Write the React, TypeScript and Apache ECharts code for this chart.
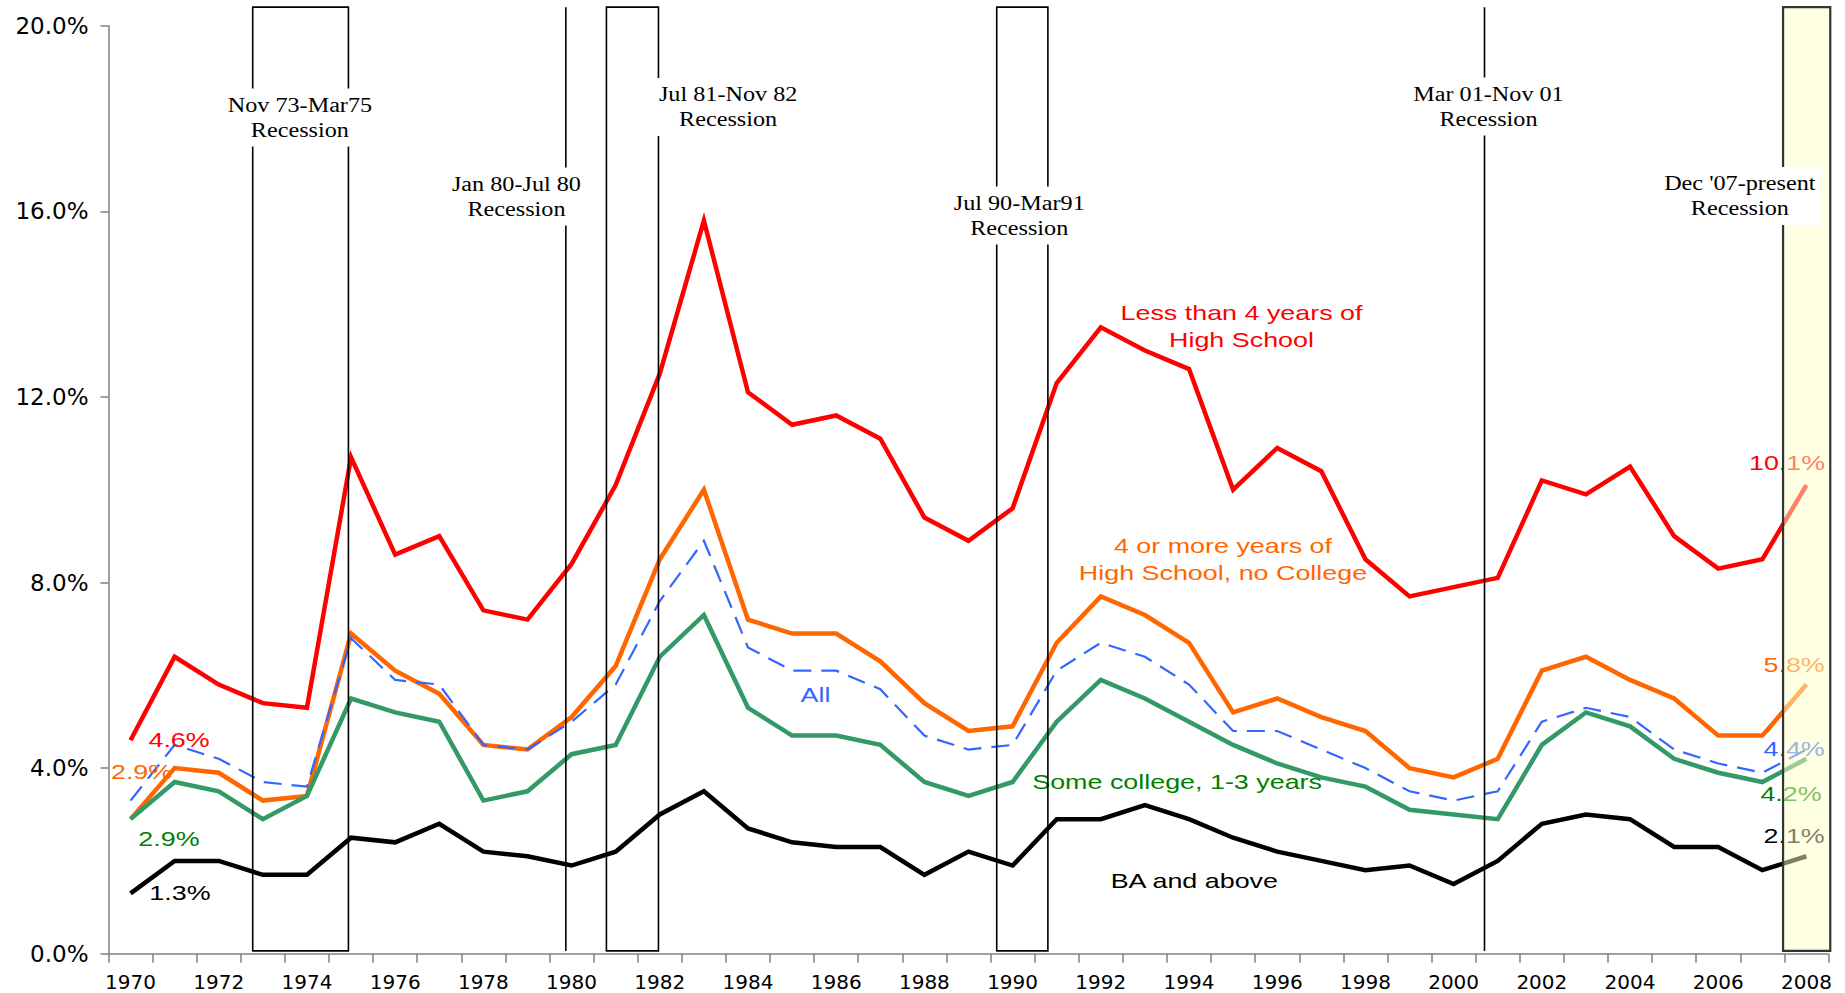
import React, { useEffect, useRef } from "react";
import * as echarts from "echarts";

// ---------- data ----------
const years = [
  "1970", "1971", "1972", "1973", "1974", "1975", "1976", "1977", "1978", "1979",
  "1980", "1981", "1982", "1983", "1984", "1985", "1986", "1987", "1988", "1989",
  "1990", "1991", "1992", "1993", "1994", "1995", "1996", "1997", "1998", "1999",
  "2000", "2001", "2002", "2003", "2004", "2005", "2006", "2007", "2008",
];

const lessThanHighSchool = [
  4.6, 6.4, 5.8, 5.4, 5.3, 10.7, 8.6, 9.0, 7.4, 7.2,
  8.4, 10.1, 12.5, 15.8, 12.1, 11.4, 11.6, 11.1, 9.4, 8.9,
  9.6, 12.3, 13.5, 13.0, 12.6, 10.0, 10.9, 10.4, 8.5, 7.7,
  7.9, 8.1, 10.2, 9.9, 10.5, 9.0, 8.3, 8.5, 10.1,
];

const highSchoolNoCollege = [
  2.9, 4.0, 3.9, 3.3, 3.4, 6.9, 6.1, 5.6, 4.5, 4.4,
  5.1, 6.2, 8.5, 10.0, 7.2, 6.9, 6.9, 6.3, 5.4, 4.8,
  4.9, 6.7, 7.7, 7.3, 6.7, 5.2, 5.5, 5.1, 4.8, 4.0,
  3.8, 4.2, 6.1, 6.4, 5.9, 5.5, 4.7, 4.7, 5.8,
];

const allWorkers = [
  3.3, 4.5, 4.2, 3.7, 3.6, 6.8, 5.9, 5.8, 4.5, 4.4,
  5.0, 5.8, 7.6, 8.9, 6.6, 6.1, 6.1, 5.7, 4.7, 4.4,
  4.5, 6.1, 6.7, 6.4, 5.8, 4.8, 4.8, 4.4, 4.0, 3.5,
  3.3, 3.5, 5.0, 5.3, 5.1, 4.4, 4.1, 3.9, 4.4,
];

const someCollege = [
  2.9, 3.7, 3.5, 2.9, 3.4, 5.5, 5.2, 5.0, 3.3, 3.5,
  4.3, 4.5, 6.4, 7.3, 5.3, 4.7, 4.7, 4.5, 3.7, 3.4,
  3.7, 5.0, 5.9, 5.5, 5.0, 4.5, 4.1, 3.8, 3.6, 3.1,
  3.0, 2.9, 4.5, 5.2, 4.9, 4.2, 3.9, 3.7, 4.2,
];

const baAndAbove = [
  1.3, 2.0, 2.0, 1.7, 1.7, 2.5, 2.4, 2.8, 2.2, 2.1,
  1.9, 2.2, 3.0, 3.5, 2.7, 2.4, 2.3, 2.3, 1.7, 2.2,
  1.9, 2.9, 2.9, 3.2, 2.9, 2.5, 2.2, 2.0, 1.8, 1.9,
  1.5, 2.0, 2.8, 3.0, 2.9, 2.3, 2.3, 1.8, 2.1,
];

// y axis ticks
const yMin = 0;
const yMax = 20;
const yInterval = 4;

// recessions (positions on a year scale where each year's point sits at the integer)
const recessionStart = [1972.77, 1979.87, 1980.79, 1989.64, 2000.7, 2007.47];
const recessionEnd = [1974.94, 1979.87, 1981.97, 1990.8, 2000.7, 2008.54];
const recessionLabels = [
  "Nov 73-Mar75\nRecession",
  "Jan 80-Jul 80\nRecession",
  "Jul 81-Nov 82\nRecession",
  "Jul 90-Mar91\nRecession",
  "Mar 01-Nov 01\nRecession",
  "Dec '07-present\nRecession",
];
const recessionLabelX = [1973.84, 1978.75, 1983.55, 1990.15, 2000.79, 2006.49];
const recessionLabelY = [18.02, 16.32, 18.25, 15.91, 18.26, 16.33];
const recessionTop = 20.4;
const recessionBottom = 0.06;

// colours
const RED = "#FF0000";
const ORANGE = "#FF6600";
const BLUE = "#3366FF";
const GREEN_LINE = "#339966";
const GREEN_TEXT = "#008000";
const BLACK = "#000000";

const last = (a: number[]) => a[a.length - 1];
const pct = (v: number) => v.toFixed(1) + "%";

// text annotations
const noteTexts = [
  "Less than 4 years of\nHigh School",
  "4 or more years of\nHigh School, no College",
  "All",
  "Some college, 1-3 years",
  "BA and above",
  pct(lessThanHighSchool[0]),
  pct(highSchoolNoCollege[0]),
  pct(someCollege[0]),
  pct(baAndAbove[0]),
  pct(last(lessThanHighSchool)),
  pct(last(highSchoolNoCollege)),
  pct(last(allWorkers)),
  pct(last(someCollege)),
  pct(last(baAndAbove)),
];
const noteX = [1995.19, 1994.77, 1985.53, 1993.73, 1994.12, 1971.1, 1970.25, 1970.87, 1971.12, 2007.56, 2007.72, 2007.72, 2007.65, 2007.72];
const noteY = [13.53, 8.5, 5.59, 3.71, 1.57, 4.62, 3.92, 2.49, 1.31, 10.59, 6.22, 4.41, 3.44, 2.54];
const noteColors = [RED, ORANGE, BLUE, GREEN_TEXT, BLACK, RED, ORANGE, GREEN_TEXT, BLACK, RED, ORANGE, BLUE, GREEN_TEXT, BLACK];

const lineDefs = [
  { name: "Less than 4 years of High School", data: lessThanHighSchool, color: RED, width: 4.5, dashed: false },
  { name: "4 or more years of High School, no College", data: highSchoolNoCollege, color: ORANGE, width: 4.5, dashed: false },
  { name: "All", data: allWorkers, color: BLUE, width: 2.2, dashed: true },
  { name: "Some college, 1-3 years", data: someCollege, color: GREEN_LINE, width: 4.5, dashed: false },
  { name: "BA and above", data: baAndAbove, color: BLACK, width: 4.5, dashed: false },
];

export default function App() {
  const ref = useRef<HTMLDivElement>(null);

  useEffect(() => {
    if (!ref.current) return;
    const chart = echarts.init(ref.current, undefined, { renderer: "svg" });

    const axisGray = "#808080";

    const lineSeries = lineDefs.map((d) => ({
      type: "line",
      name: d.name,
      data: d.data,
      xAxisIndex: 0,
      yAxisIndex: 0,
      showSymbol: false,
      symbol: "none",
      silent: true,
      z: 2,
      lineStyle: {
        color: d.color,
        width: d.width,
        type: d.dashed ? [18, 10] : "solid",
        join: "miter",
      },
    }));

    const notesSeries = {
      type: "custom",
      xAxisIndex: 1,
      yAxisIndex: 0,
      z: 3,
      silent: true,
      clip: false,
      data: noteX.map((x, i) => [x, noteY[i]]),
      encode: { x: 0, y: 1 },
      renderItem: (params: any, api: any) => {
        const i = params.dataIndex;
        const p = api.coord([noteX[i], noteY[i]]);
        return {
          type: "text",
          x: p[0],
          y: p[1],
          scaleX: 1.28,
          style: {
            text: noteTexts[i],
            fill: noteColors[i],
            fontFamily: "Liberation Sans, Arial, sans-serif",
            fontSize: 21,
            lineHeight: 27,
            align: "center",
            verticalAlign: "middle",
          },
        };
      },
    };

    const recessionSeries = {
      type: "custom",
      xAxisIndex: 1,
      yAxisIndex: 0,
      z: 5,
      silent: true,
      clip: false,
      data: recessionStart.map((s, i) => [s, recessionEnd[i], recessionLabelX[i], recessionLabelY[i]]),
      encode: { x: [0, 1, 2], y: 3 },
      renderItem: (params: any, api: any) => {
        const i = params.dataIndex;
        const pTop = api.coord([recessionStart[i], recessionTop]);
        const pBot = api.coord([recessionEnd[i], recessionBottom]);
        const lp = api.coord([recessionLabelX[i], recessionLabelY[i]]);
        const isCurrent = i === recessionStart.length - 1;
        const w = pBot[0] - pTop[0];
        const children: any[] = [];
        if (w < 1) {
          children.push({
            type: "line",
            shape: { x1: pTop[0], y1: pTop[1], x2: pTop[0], y2: pBot[1] },
            style: { stroke: "#000", lineWidth: 1.6 },
          });
        } else {
          children.push({
            type: "rect",
            shape: { x: pTop[0], y: pTop[1], width: w, height: pBot[1] - pTop[1] },
            style: {
              fill: isCurrent ? "rgba(255,255,200,0.5)" : "none",
              stroke: isCurrent ? "#333333" : "#000",
              lineWidth: isCurrent ? 2.2 : 1.6,
            },
          });
        }
        children.push({
          type: "text",
          x: lp[0],
          y: lp[1],
          scaleX: 1.21,
          z2: 10,
          style: {
            text: recessionLabels[i],
            fill: "#000",
            fontFamily: "Liberation Serif, Times New Roman, serif",
            fontSize: 20,
            lineHeight: 25,
            align: "center",
            verticalAlign: "middle",
            backgroundColor: "#ffffff",
            padding: [4, 5],
          },
        });
        return { type: "group", children };
      },
    };

    chart.setOption({
      animation: false,
      backgroundColor: "#ffffff",
      grid: { left: 108.5, right: 16.5, top: 25.7, bottom: 39.3 },
      xAxis: [
        {
          type: "category",
          data: years,
          boundaryGap: true,
          axisLine: { show: true, lineStyle: { color: axisGray, width: 1.5 } },
          axisTick: { show: true, interval: 0, length: 9, lineStyle: { color: axisGray, width: 1.5 } },
          axisLabel: {
            interval: 1,
            color: "#000",
            fontFamily: "DejaVu Sans, sans-serif",
            fontSize: 20,
            margin: 18,
          },
          splitLine: { show: false },
        },
        { type: "value", min: 1969.5, max: 2008.5, show: false },
      ],
      yAxis: {
        type: "value",
        min: yMin,
        max: yMax,
        interval: yInterval,
        axisLine: { show: true, lineStyle: { color: axisGray, width: 1.5 } },
        axisTick: { show: true, length: 8, lineStyle: { color: axisGray, width: 1.5 } },
        axisLabel: {
          color: "#000",
          fontFamily: "DejaVu Sans, sans-serif",
          fontSize: 23,
          margin: 20,
          formatter: (v: number) => v.toFixed(1) + "%",
        },
        splitLine: { show: false },
      },
      series: [...lineSeries, notesSeries, recessionSeries],
    } as any);

    return () => chart.dispose();
  }, []);

  return (
    <div
      ref={ref}
      style={{ position: "fixed", left: 0, top: 0, width: 1845, height: 993, background: "#fff" }}
    />
  );
}
